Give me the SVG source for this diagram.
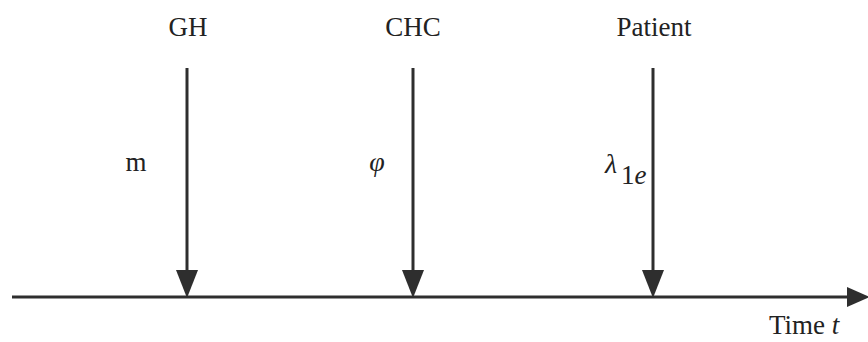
<svg xmlns="http://www.w3.org/2000/svg" width="868" height="342" viewBox="0 0 868 342">
<style>
.ln{stroke:#2e2e2e;stroke-width:3;fill:none}
.ah{fill:#2e2e2e}
.t{font-family:"Liberation Serif","Times New Roman",serif;font-size:27px;fill:#222}
.s{font-family:"Liberation Serif","Times New Roman",serif;font-size:28px;fill:#222;font-style:italic}
</style>
<rect width="868" height="342" fill="#fff"/>
<g id="connectors">
<line class="ln" x1="12" y1="297" x2="852" y2="297"/>
<polygon class="ah" points="847,287 870,297 847,307"/>
<line class="ln" x1="187" y1="68" x2="187" y2="272"/>
<polygon class="ah" points="176,270 198,270 187,298"/>
<line class="ln" x1="413" y1="68" x2="413" y2="272"/>
<polygon class="ah" points="402,270 424,270 413,298"/>
<line class="ln" x1="653" y1="68" x2="653" y2="272"/>
<polygon class="ah" points="642,270 664,270 653,298"/>
</g>
<g id="gh"><text class="t" x="188" y="36" text-anchor="middle">GH</text><text class="t" x="136" y="171" text-anchor="middle">m</text></g>
<g id="chc"><text class="t" x="413" y="36" text-anchor="middle">CHC</text><text class="s" x="377" y="171" text-anchor="middle">φ</text></g>
<g id="patient"><text class="t" x="654" y="36" text-anchor="middle">Patient</text><text class="s" x="611" y="173" text-anchor="middle">λ</text><text class="t" x="621" y="184" font-size="15"><tspan>1</tspan><tspan font-style="italic">e</tspan></text></g>
<g id="time"><text class="t" x="769" y="334">Time <tspan font-style="italic">t</tspan></text></g>
</svg>
